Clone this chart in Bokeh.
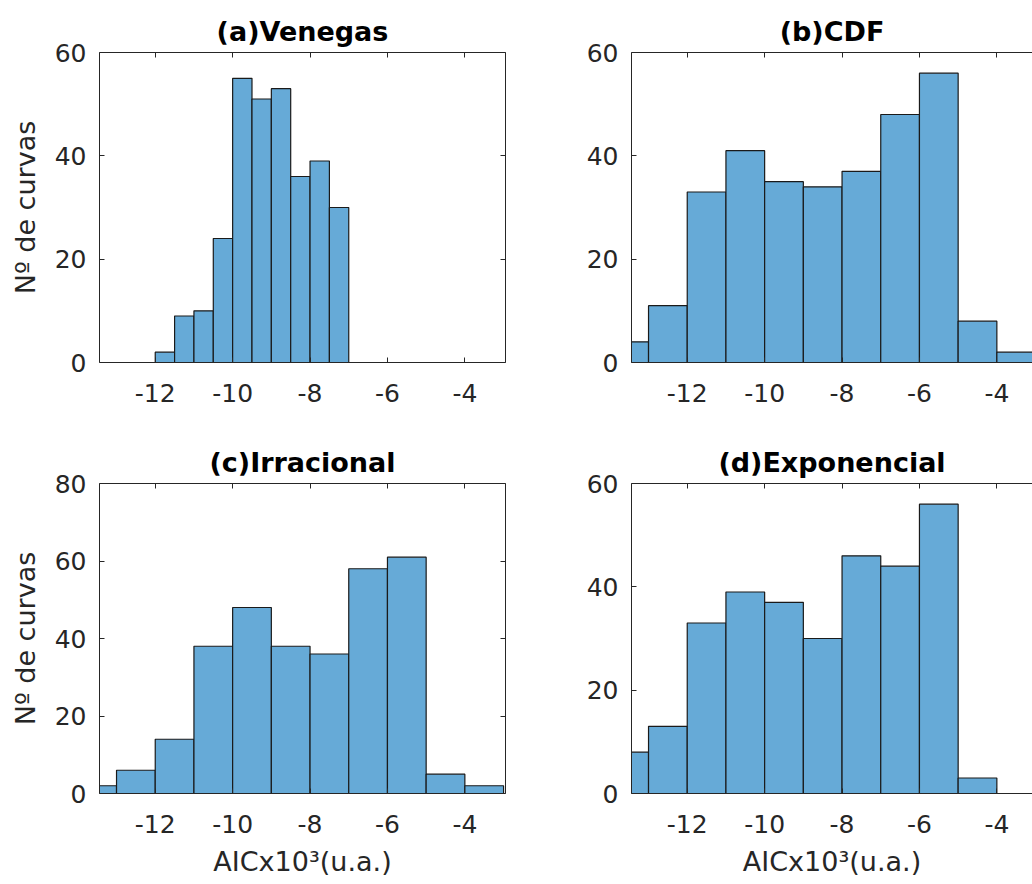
from bokeh.plotting import figure
from bokeh.models import (LinearAxis, FixedTicker, Range1d, ColumnDataSource,
                          CustomLabelingPolicy)
from bokeh.layouts import column, row
from bokeh.embed import file_html
from bokeh.resources import INLINE

# ---------------- data ----------------
venegas_edges = [-12.0, -11.5, -11.0, -10.5, -10.0, -9.5, -9.0, -8.5, -8.0, -7.5, -7.0]
venegas_counts = [2, 9, 10, 24, 55, 51, 53, 36, 39, 30]

wide_edges = [-14, -13, -12, -11, -10, -9, -8, -7, -6, -5, -4, -3]
cdf_counts = [4, 11, 33, 41, 35, 34, 37, 48, 56, 8, 2]
irracional_counts = [2, 6, 14, 38, 48, 38, 36, 58, 61, 5, 2]
exponencial_counts = [8, 13, 33, 39, 37, 30, 46, 44, 56, 3, 0]

titles = ["(a)Venegas", "(b)CDF", "(c)Irracional", "(d)Exponencial"]
y_max = [60, 60, 80, 60]
x_ticks = [-12, -10, -8, -6, -4]
x_tick_labels = ["-12", "-10", "-8", "-6", "-4"]
y_ticks = [0, 20, 40, 60, 80]
x_limits = [-13.44, -2.95]
x_label = "AICx10³(u.a.)"
y_label = "Nº de curvas"

# ---------------- style ----------------
FONT = "DejaVu Sans"
AX = "#262626"
BAR = "#66AAD7"
FRAME_W = 406
RIGHT_FRAME_W = 401
FRAME_H = 310


def style_axis(ax, labels=True):
    ax.axis_line_color = AX
    ax.axis_line_width = 1
    ax.major_tick_line_color = AX
    ax.major_tick_in = 5
    ax.major_tick_out = 0
    ax.minor_tick_in = 0
    ax.minor_tick_out = 0
    ax.major_label_text_font = FONT
    ax.major_label_text_color = AX
    ax.axis_label_text_font = FONT
    ax.axis_label_text_font_size = "27px"
    ax.axis_label_text_font_style = "normal"
    ax.axis_label_text_color = AX
    if labels:
        ax.major_label_text_font_size = "25px"
    else:
        ax.major_label_text_font_size = "0px"
        ax.major_label_standoff = 0
        ax.major_label_policy = CustomLabelingPolicy(code="return new Set()")


def make_panel(title, edges, counts, ymax, col_i, row_i):
    left_col = col_i == 0
    top_row = row_i == 0
    fw = FRAME_W if left_col else RIGHT_FRAME_W
    span = x_limits[1] - x_limits[0]
    x_end = x_limits[1] if left_col else x_limits[0] + span * fw / FRAME_W
    p = figure(
        frame_width=fw, frame_height=FRAME_H,
        x_range=Range1d(x_limits[0], x_end),
        y_range=Range1d(0, ymax),
        output_backend="svg", toolbar_location=None,
        min_border_left=99, min_border_right=27 if left_col else 0,
        min_border_top=52, min_border_bottom=69 if top_row else 91,
        background_fill_color="white", border_fill_color="white",
    )
    p.outline_line_color = None
    p.xgrid.visible = False
    p.ygrid.visible = False

    lefts, rights, tops = [], [], []
    for i, c in enumerate(counts):
        if c > 0:
            lefts.append(edges[i])
            rights.append(edges[i + 1])
            tops.append(c)
    src = ColumnDataSource(dict(left=lefts, right=rights, top=tops))
    p.quad(left="left", right="right", bottom=0, top="top", source=src,
           fill_color=BAR, line_color="#1a1a1a", line_width=1.2)

    yt = [t for t in y_ticks if t <= ymax]
    p.xaxis.ticker = FixedTicker(ticks=x_ticks)
    p.xaxis.major_label_overrides = {t: s for t, s in zip(x_ticks, x_tick_labels)}
    p.yaxis.ticker = FixedTicker(ticks=yt)
    style_axis(p.xaxis[0])
    style_axis(p.yaxis[0])
    p.xaxis.major_label_standoff = 21
    p.yaxis.major_label_standoff = 13
    p.yaxis.axis_label_standoff = 11
    p.xaxis.axis_label_standoff = 10
    if not top_row:
        p.xaxis.axis_label = x_label
    if left_col:
        p.yaxis.axis_label = y_label

    top_ax = LinearAxis(ticker=FixedTicker(ticks=x_ticks))
    style_axis(top_ax, labels=False)
    p.add_layout(top_ax, "above")
    if left_col:
        right_ax = LinearAxis(ticker=FixedTicker(ticks=yt))
        style_axis(right_ax, labels=False)
        p.add_layout(right_ax, "right")

    p.title.text = title
    p.title.align = "center"
    p.title.text_font = FONT
    p.title.text_font_size = "27px"
    p.title.text_font_style = "bold"
    p.title.text_color = "black"
    p.title.standoff = 12
    if not left_col:
        p.title.offset = 2
    return p


pa = make_panel(titles[0], venegas_edges, venegas_counts, y_max[0], 0, 0)
pb = make_panel(titles[1], wide_edges, cdf_counts, y_max[1], 1, 0)
pc = make_panel(titles[2], wide_edges, irracional_counts, y_max[2], 0, 1)
pd = make_panel(titles[3], wide_edges, exponencial_counts, y_max[3], 1, 1)

layout = column(row(pa, pb), row(pc, pd))

open("out.html", "w").write(file_html(layout, INLINE))
